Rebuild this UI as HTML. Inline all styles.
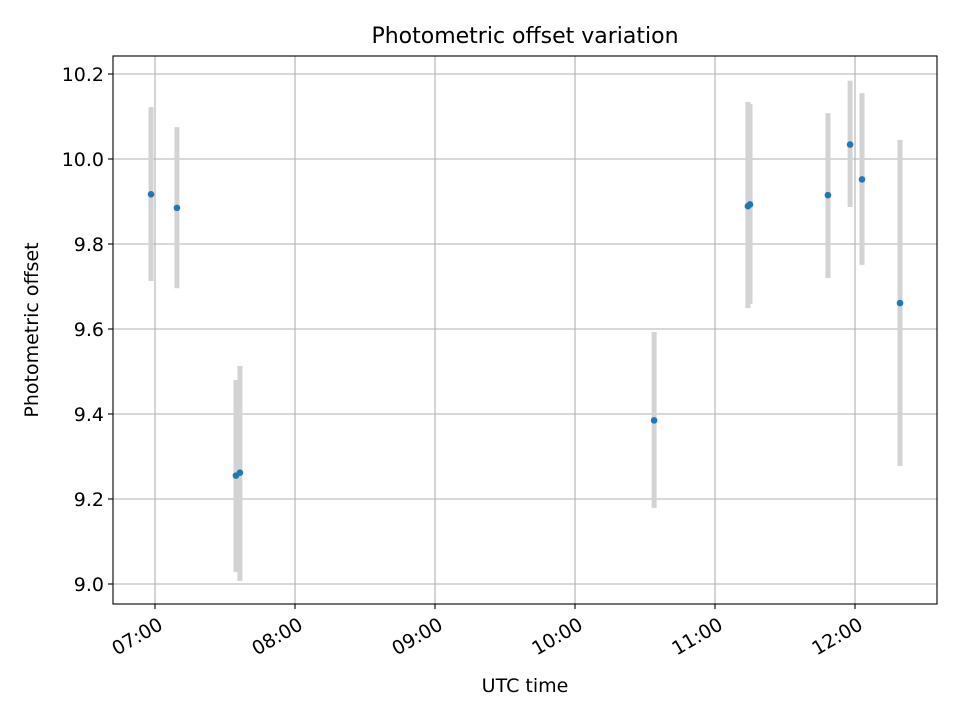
<!DOCTYPE html>
<html><head><meta charset="utf-8"><style>
body{margin:0;background:#fff;}
svg text{font-family:"DejaVu Sans","Liberation Sans",sans-serif;fill:#000;}
</style></head><body>
<svg id="chart" width="960" height="720" xmlns="http://www.w3.org/2000/svg">
<rect width="960" height="720" fill="#fff"/>
<g id="grid"></g>
<g id="bars"></g>
<g id="pts"></g>
<rect x="113" y="56" width="824" height="548" fill="none" stroke="#000" stroke-width="1.1"/>
<g id="ticks"></g>
<text x="525" y="43" style="font-size:22px" text-anchor="middle">Photometric offset variation</text>
<text x="525" y="692" style="font-size:19px" text-anchor="middle">UTC time</text>
<text transform="translate(38,330) rotate(-90)" style="font-size:19px" text-anchor="middle">Photometric offset</text>
</svg>
<script>
const times = ["06:58.3","07:09.4","07:34.7","07:36.4","10:33.9","11:14.1","11:15.0","11:48.4","11:57.9","12:03.0","12:19.3"];
const values = [9.917,9.885,9.255,9.262,9.385,9.889,9.893,9.915,10.034,9.952,9.661];
const lows = [9.713,9.696,9.028,9.007,9.179,9.649,9.659,9.720,9.887,9.751,9.278];
const highs = [10.122,10.075,9.480,9.513,9.593,10.134,10.129,10.108,10.184,10.155,10.045];
const yTicks = [9.0,9.2,9.4,9.6,9.8,10.0,10.2];
const xTicks = ["07:00","08:00","09:00","10:00","11:00","12:00"];
const NS="http://www.w3.org/2000/svg";
function toMin(s){const p=s.split(":");return +p[0]*60+ +p[1];}
const xMin=402, xMax=755.14, L=113, R=937;
function X(m){return L+(m-xMin)/(xMax-xMin)*(R-L);}
function Y(v){return 584-(v-9)/0.2*85;}
function mk(tag,attrs,parent){const e=document.createElementNS(NS,tag);for(const k in attrs)e.setAttribute(k,attrs[k]);parent.appendChild(e);return e;}
const grid=document.getElementById('grid'),ticks=document.getElementById('ticks'),bars=document.getElementById('bars'),pts=document.getElementById('pts');
yTicks.forEach(v=>{
  const y=Y(v);
  const g=mk('line',{x1:L,x2:R,y1:y,y2:y,stroke:'#b0b0b0','stroke-width':1.1},grid);
  
  
  const t=mk('line',{x1:L-5,x2:L,y1:y,y2:y,stroke:'#000','stroke-width':1.1},ticks);
  
  
  const tx=mk('text',{x:L-9,y:y+7,style:'font-size:19px','text-anchor':'end'},ticks);
  tx.textContent=v.toFixed(1);
  
  
});
xTicks.forEach(s=>{
  const x=X(toMin(s));
  const g=mk('line',{x1:x,x2:x,y1:56,y2:604,stroke:'#b0b0b0','stroke-width':1.1},grid);
  
  
  const t=mk('line',{x1:x,x2:x,y1:604,y2:609,stroke:'#000','stroke-width':1.1},ticks);
  
  
  const tx=mk('text',{transform:`translate(${x+2},${616}) rotate(-30)`,style:'font-size:19px','text-anchor':'end',dy:'0.75em'},ticks);
  tx.textContent=s;
  
  
});
times.forEach((s,i)=>{
  const x=X(toMin(s));
  const b=mk('line',{x1:x,x2:x,y1:Y(lows[i]),y2:Y(highs[i]),stroke:'#d3d3d3','stroke-width':5},bars);
  
  
  const c=mk('circle',{cx:x,cy:Y(values[i]),r:3.3,fill:'#1f77b4'},pts);
  
  
});
</script>
</body></html>
